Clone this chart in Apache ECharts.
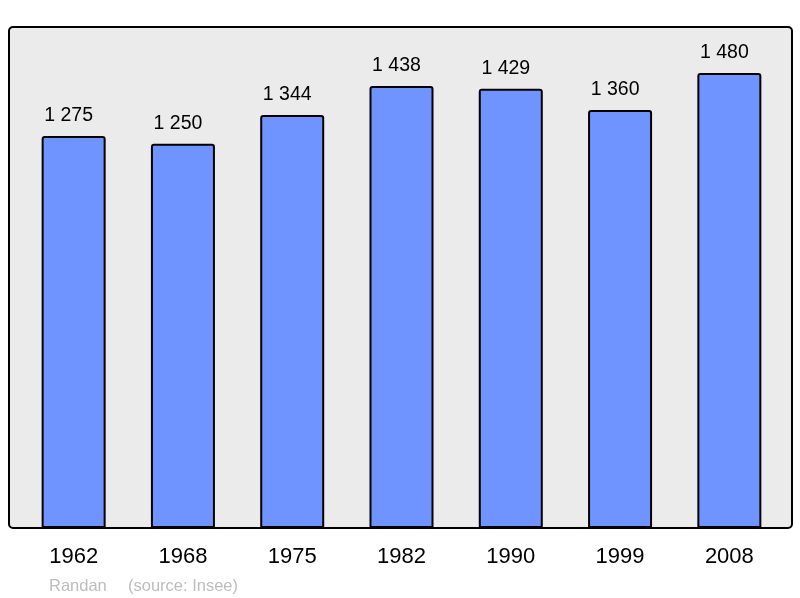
<!DOCTYPE html>
<html>
<head>
    <meta charset="UTF-8">
    <title>Randan - population</title>
    <script src="https://cdn.jsdelivr.net/npm/echarts@6/dist/echarts.min.js"></script>
    <style>
        html, body { margin: 0; padding: 0; background: #fff; }
        #chart { width: 800px; height: 598px; }
    </style>
</head>
<body>
<div id="chart"></div>
<script>
// données (source : Insee)
const years = ['1962', '1968', '1975', '1982', '1990', '1999', '2008'];
const population = [1275, 1250, 1344, 1438, 1429, 1360, 1480];
const commune = 'Randan';
const source = '(source: Insee)';

function fmt(v) {
    // séparateur de milliers : espace
    return String(v).replace(/\B(?=(\d{3})+(?!\d))/g, ' ');
}

const chart = echarts.init(document.getElementById('chart'));
const font = 'Liberation Sans, Arial, sans-serif';

chart.setOption({
    animation: false,
    grid: { left: 19, right: 16, top: 27, bottom: 70 },
    graphic: [
        {
            type: 'rect',
            z: -1,
            shape: { x: 9, y: 27, width: 783, height: 501, r: 4 },
            style: { fill: '#ebebeb', stroke: '#000', lineWidth: 2 }
        },
        {
            type: 'text',
            left: 49, top: 578,
            style: { text: commune, fill: '#bdbdbd', font: '16.5px ' + font }
        },
        {
            type: 'text',
            left: 128, top: 578,
            style: { text: source, fill: '#bdbdbd', font: '16.5px ' + font }
        }
    ],
    xAxis: {
        type: 'category',
        data: years,
        axisLine: { show: false },
        axisTick: { show: false },
        axisLabel: { color: '#000', fontSize: 22, fontFamily: font, margin: 18 }
    },
    yAxis: {
        type: 'value',
        min: 0,
        max: 1630,
        show: false,
        splitLine: { show: false }
    },
    series: [{
        type: 'bar',
        data: population,
        barWidth: 64,
        itemStyle: {
            color: '#7094ff',
            borderColor: '#000',
            borderWidth: 2,
            borderRadius: [2, 2, 0, 0]
        },
        label: {
            show: true,
            position: 'top',
            distance: 10.5,
            offset: [-5, 0],
            color: '#000',
            fontSize: 19.5,
            fontFamily: font,
            formatter: p => fmt(p.value)
        }
    }]
});
</script>
</body>
</html>
